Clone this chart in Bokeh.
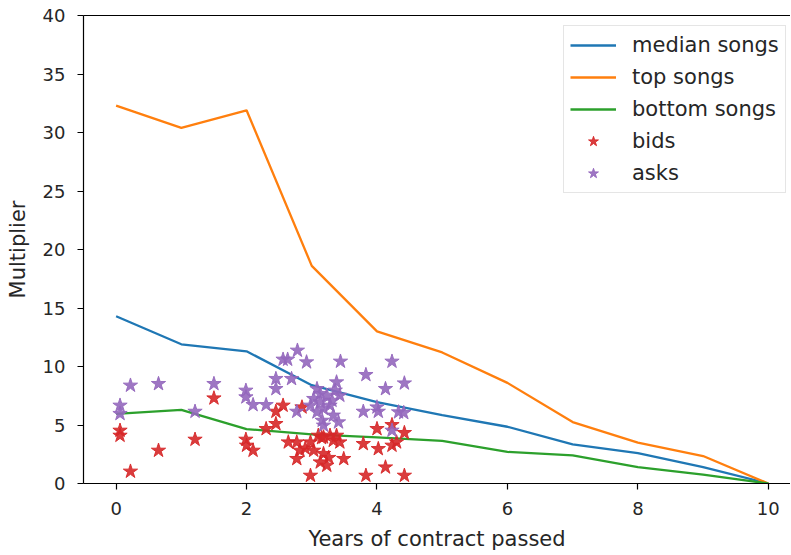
from bokeh.plotting import figure
from bokeh.models import (Range1d, FixedTicker, LinearAxis, Legend, LegendItem)
from bokeh.embed import file_html
from bokeh.resources import INLINE

# ---- data ----
years = [0, 1, 2, 3, 4, 5, 6, 7, 8, 9, 10]
median_songs = [14.3, 11.9, 11.3, 8.4, 6.95, 5.85, 4.85, 3.35, 2.6, 1.4, 0.0]
top_songs = [32.3, 30.4, 31.9, 18.6, 13.0, 11.2, 8.6, 5.25, 3.5, 2.35, 0.0]
bottom_songs = [5.95, 6.3, 4.65, 4.2, 3.95, 3.65, 2.7, 2.4, 1.4, 0.75, 0.0]

bids_x = [0.06, 0.06, 0.22, 0.65, 1.21, 1.50, 1.99, 2.00, 2.10, 2.30,
          2.45, 2.45, 2.56, 2.64, 2.77, 2.82, 2.77, 2.98, 3.03, 2.98,
          3.13, 3.18, 3.23, 3.10, 3.18, 3.28, 3.33, 3.43, 3.38, 3.49,
          2.85, 3.79, 4.00, 4.02, 4.23, 4.30, 4.42, 4.23, 3.83, 4.13,
          4.42, 3.15, 3.26, 2.90]
bids_y = [4.53, 4.10, 1.03, 2.82, 3.76, 7.29, 3.76, 3.25, 2.82, 4.67,
          5.10, 6.15, 6.67, 3.53, 3.53, 2.82, 2.11, 3.53, 2.82, 0.68,
          1.82, 2.54, 1.54, 4.10, 3.96, 4.10, 3.67, 3.53, 4.10, 2.11,
          6.52, 3.39, 4.67, 2.96, 3.25, 3.53, 4.33, 5.01, 0.68, 1.39,
          0.68, 3.90, 2.20, 3.00]

asks_x = [0.06, 0.06, 0.22, 0.65, 1.21, 1.50, 1.99, 1.99, 2.10, 2.30,
          2.45, 2.45, 2.56, 2.63, 2.78, 2.92, 2.69, 2.77, 3.03, 3.08,
          3.13, 3.18, 3.23, 3.28, 3.33, 3.36, 3.38, 3.43, 3.16, 3.18,
          3.08, 3.31, 3.13, 2.98, 3.41, 3.44, 3.83, 4.23, 4.13, 4.42,
          3.79, 4.00, 4.02, 4.33, 4.41, 4.23]
asks_y = [6.67, 5.96, 8.38, 8.52, 6.15, 8.52, 7.95, 7.38, 6.72, 6.72,
          8.95, 8.09, 10.6, 10.6, 11.37, 10.37, 8.95, 6.15, 7.24, 8.09,
          6.95, 6.38, 7.52, 6.67, 5.82, 7.95, 8.66, 7.52, 5.38, 4.96,
          6.10, 7.09, 7.67, 6.67, 5.24, 10.43, 9.29, 10.43, 8.09, 8.57,
          6.15, 6.52, 6.15, 6.10, 6.04, 4.53]

x_ticks = [0, 2, 4, 6, 8, 10]
y_ticks = [0, 5, 10, 15, 20, 25, 30, 35, 40]

FONT = "DejaVu Sans"
TXT = "#262626"

p = figure(width=790, height=553, output_backend="svg", toolbar_location=None,
           x_range=Range1d(-0.5, 10.34), y_range=Range1d(0, 40),
           min_border_left=83, min_border_right=0, min_border_top=15,
           min_border_bottom=70)
p.outline_line_color = None
p.xgrid.visible = False
p.ygrid.visible = False
p.background_fill_color = "white"
p.border_fill_color = "white"

for ax in (p.xaxis[0], p.yaxis[0]):
    ax.axis_line_color = "black"
    ax.axis_line_width = 1.2
    ax.major_tick_line_color = "black"
    ax.major_tick_line_width = 1.2
    ax.major_tick_out = 6
    ax.major_tick_in = 0
    ax.minor_tick_line_color = None
    ax.major_label_text_font = FONT
    ax.major_label_text_font_size = "18px"
    ax.major_label_text_color = TXT
    ax.axis_label_text_font = FONT
    ax.axis_label_text_font_size = "21px"
    ax.axis_label_text_font_style = "normal"
    ax.axis_label_text_color = TXT

p.xaxis[0].ticker = FixedTicker(ticks=x_ticks)
p.yaxis[0].ticker = FixedTicker(ticks=y_ticks)
p.xaxis[0].axis_label = "Years of contract passed"
p.yaxis[0].axis_label = "Multiplier"
p.xaxis[0].major_label_standoff = 12
p.yaxis[0].major_label_standoff = 12
p.xaxis[0].axis_label_standoff = 9
p.yaxis[0].axis_label_standoff = 10

top_axis = LinearAxis(ticker=FixedTicker(ticks=[]), axis_line_color="black",
                      axis_line_width=1.2, major_tick_line_color=None,
                      minor_tick_line_color=None, major_label_text_font_size="0px",
                      major_label_standoff=0, major_tick_out=0, major_tick_in=0)
p.add_layout(top_axis, "above")

r_med = p.line(years, median_songs, line_color="#1f77b4", line_width=2.3)
r_top = p.line(years, top_songs, line_color="#ff7f0e", line_width=2.3)
r_bot = p.line(years, bottom_songs, line_color="#2ca02c", line_width=2.3)
r_bids = p.scatter(bids_x, bids_y, marker="star", size=15, fill_color="#d62728",
                   line_color="#d62728", fill_alpha=0.9, line_alpha=0.9)
r_asks = p.scatter(asks_x, asks_y, marker="star", size=15, fill_color="#9467bd",
                   line_color="#9467bd", fill_alpha=0.9, line_alpha=0.9)

legend = Legend(items=[
    LegendItem(label="median songs", renderers=[r_med]),
    LegendItem(label="top songs", renderers=[r_top]),
    LegendItem(label="bottom songs", renderers=[r_bot]),
    LegendItem(label="bids", renderers=[r_bids]),
    LegendItem(label="asks", renderers=[r_asks]),
], location=(480, 290))
legend.label_text_font = FONT
legend.label_text_font_size = "21px"
legend.label_text_color = TXT
legend.glyph_width = 46
legend.glyph_height = 26
legend.label_height = 26
legend.label_standoff = 16
legend.spacing = 6
legend.padding = 6
legend.margin = 0
legend.border_line_color = "#cccccc"
legend.border_line_width = 1
legend.background_fill_alpha = 0.8
p.add_layout(legend)

open("out.html", "w").write(file_html(p, INLINE))
